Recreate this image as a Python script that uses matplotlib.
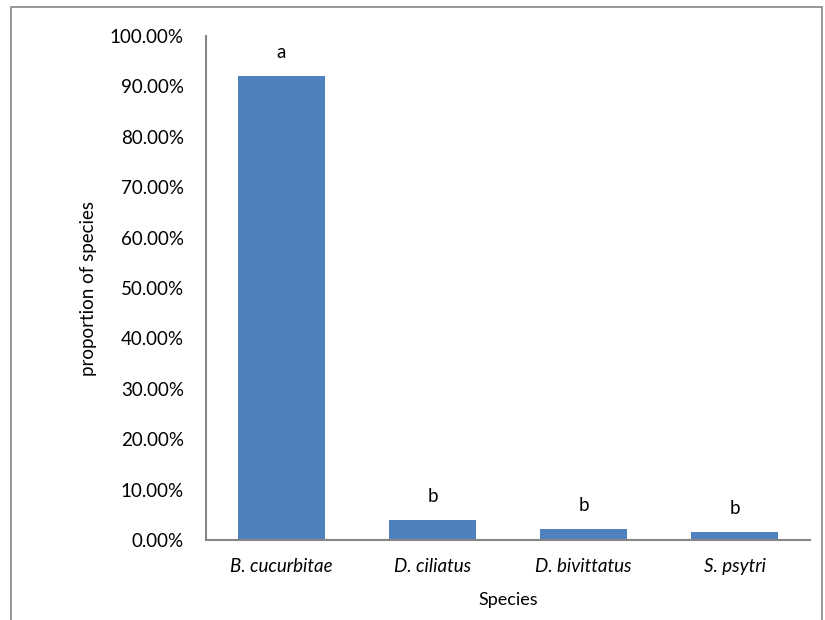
import matplotlib
matplotlib.use('Agg')

import matplotlib.pyplot as plt
from matplotlib.patches import Rectangle
from matplotlib.ticker import FuncFormatter

# -----------------------------
# DATA
# -----------------------------
species = ["B. cucurbitae", "D. ciliatus", "D. bivittatus", "S. psytri"]
proportion = [0.921, 0.040, 0.022, 0.016]
groups = ["a", "b", "b", "b"]
y_ticks = [i / 10 for i in range(11)]

BAR_COLOR = "#4F81BD"
LINE_COLOR = "#868686"

plt.rcParams['font.family'] = ['Lato', 'DejaVu Sans']


def main():
    W, H = 825, 620
    fig = plt.figure(figsize=(W / 100, H / 100), dpi=100)

    # chart area border
    fig.patches.append(Rectangle((10.5 / W, -0.1), (822 - 10.5) / W, 1.1 - 7 / H,
                                 transform=fig.transFigure, fill=False,
                                 edgecolor=LINE_COLOR, linewidth=1.2))

    ax = fig.add_axes([206 / W, 1 - 540 / H, (810 - 206) / W, (540 - 36) / H])

    x = range(len(species))
    ax.bar(x, proportion, width=0.57, color=BAR_COLOR)

    for xi, val, g in zip(x, proportion, groups):
        ax.annotate(g, (xi, val), xytext=(0, 11), textcoords='offset points',
                    ha='center', va='bottom', fontsize=13.5)

    ax.set_xlim(-0.5, len(species) - 0.5)
    ax.set_ylim(0, 1.0)
    ax.set_yticks(y_ticks)
    ax.yaxis.set_major_formatter(FuncFormatter(lambda v, _: f"{v:.2%}"))
    ax.set_xticks(list(x))
    ax.set_xticklabels(species, fontstyle='italic')

    ax.tick_params(axis='y', length=0, pad=16, labelsize=13.5)
    ax.tick_params(axis='x', length=0, pad=13, labelsize=13.5)

    for side in ['top', 'right']:
        ax.spines[side].set_visible(False)
    for side in ['left', 'bottom']:
        ax.spines[side].set_color(LINE_COLOR)
        ax.spines[side].set_linewidth(1.5)

    ax.set_xlabel("Species", fontsize=13, labelpad=12)
    ax.set_ylabel("proportion of species", fontsize=13.5, labelpad=9)

    fig.savefig("out.png", dpi=100)
    plt.close(fig)


if __name__ == "__main__":
    main()
